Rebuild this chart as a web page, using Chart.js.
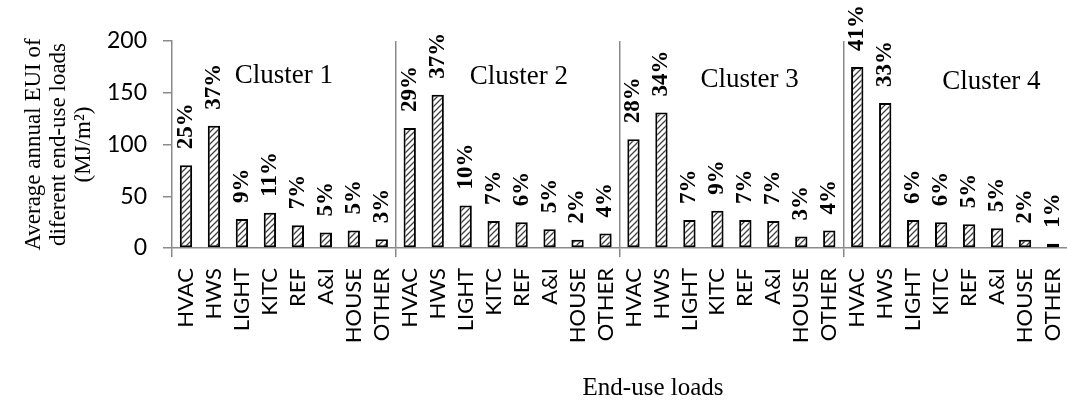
<!DOCTYPE html>
<html>
<head>
<meta charset="utf-8">
<script src="https://cdn.jsdelivr.net/npm/chart.js@4/dist/chart.umd.min.js"></script>
<style>
html,body{margin:0;padding:0;background:#fff;}
canvas{display:block;}
</style>
</head>
<body>
<canvas id="c" width="1067" height="401"></canvas>
<script>
// ---- data ----
const endUses = ['HVAC', 'HWS', 'LIGHT', 'KITC', 'REF', 'A&I', 'HOUSE', 'OTHER'];
const clusterNames = ['Cluster 1', 'Cluster 2', 'Cluster 3', 'Cluster 4'];
const cluster1Values = [80, 118, 28, 34, 22, 15, 17, 8.5];
const cluster2Values = [116, 148, 41, 26, 25, 18, 8, 14];
const cluster3Values = [105, 131, 27, 36, 27, 26, 11, 17];
const cluster4Values = [175, 140, 27, 25, 23, 19, 8, 4];
const cluster1Shares = ['25%', '37%', '9%', '11%', '7%', '5%', '5%', '3%'];
const cluster2Shares = ['29%', '37%', '10%', '7%', '6%', '5%', '2%', '4%'];
const cluster3Shares = ['28%', '34%', '7%', '9%', '7%', '7%', '3%', '4%'];
const cluster4Shares = ['41%', '33%', '6%', '6%', '5%', '5%', '2%', '1%'];
const yTickValues = [0, 50, 100, 150, 200];
const yTitle = ['Average annual EUI of', 'diferent end-use loads', '(MJ/m\u00B2)'];
const xTitle = 'End-use loads';

// ---- derived ----
const categories = [].concat(endUses, endUses, endUses, endUses);
const values = [].concat(cluster1Values, cluster2Values, cluster3Values, cluster4Values);
const shares = [].concat(cluster1Shares, cluster2Shares, cluster3Shares, cluster4Shares);

const axisColor = '#8a8a8a';
const serif = '"Liberation Serif", "Times New Roman", serif';
const sans = 'Lato, "Open Sans", sans-serif';

const canvas = document.getElementById('c');
const mainCtx = canvas.getContext('2d');

function makeHatch() {
  const s = 6;
  const t = document.createElement('canvas');
  t.width = s; t.height = s;
  const g = t.getContext('2d');
  g.fillStyle = '#ffffff';
  g.fillRect(0, 0, s, s);
  g.strokeStyle = '#404040';
  g.lineWidth = 1.3;
  g.beginPath();
  g.moveTo(-1, s + 1); g.lineTo(s + 1, -1);
  g.moveTo(-s / 2 - 1, s / 2 + 1); g.lineTo(s / 2 + 1, -s / 2 - 1);
  g.moveTo(s / 2 - 1, s * 1.5 + 1); g.lineTo(s * 1.5 + 1, s / 2 - 1);
  g.stroke();
  return mainCtx.createPattern(t, 'repeat');
}
const hatch = makeHatch();

// annotation placements (category index, value) for cluster names
const clusterNamePlacement = [[3.5, 159], [11.9, 158.5], [20.15, 156], [28.8, 154]];

const annotate = {
  id: 'annotate',
  afterDatasetsDraw(chart) {
    const ctx = chart.ctx;
    const meta = chart.getDatasetMeta(0);
    const xs = chart.scales.x, ys = chart.scales.y;
    ctx.save();
    ctx.fillStyle = '#000';
    // percentage labels
    ctx.font = 'bold 23px ' + serif;
    ctx.textAlign = 'left';
    ctx.textBaseline = 'middle';
    meta.data.forEach((bar, i) => {
      ctx.save();
      ctx.translate(bar.x, bar.y - 16);
      ctx.rotate(-Math.PI / 2);
      ctx.fillText(shares[i], 0, 0);
      ctx.restore();
    });
    // cluster names
    ctx.font = '27px ' + serif;
    ctx.textAlign = 'center';
    ctx.textBaseline = 'alphabetic';
    clusterNames.forEach((name, k) => {
      const p = clusterNamePlacement[k];
      ctx.fillText(name, xs.getPixelForValue(p[0]), ys.getPixelForValue(p[1]));
    });
    // x axis title
    ctx.font = '25px ' + serif;
    ctx.fillText(xTitle, xs.getPixelForValue(16.7), chart.height - 6);
    ctx.restore();
  }
};

new Chart(mainCtx, {
  type: 'bar',
  data: {
    labels: categories,
    datasets: [{
      data: values,
      backgroundColor: hatch,
      borderColor: '#000',
      borderWidth: 2,
      borderSkipped: false,
      barPercentage: 0.44,
      categoryPercentage: 1
    }]
  },
  options: {
    responsive: false,
    animation: false,
    devicePixelRatio: 1,
    layout: { padding: { top: 41, right: 0, left: 0, bottom: 0 } },
    plugins: { legend: { display: false }, tooltip: { enabled: false }, title: { display: false } },
    scales: {
      x: {
        offset: true,
        grid: {
          offset: true,
          drawOnChartArea: true,
          color: c => [8, 16, 24].includes(c.index) ? axisColor : 'rgba(0,0,0,0)',
          tickColor: c => [0, 8, 16, 24, 32].includes(c.index) ? axisColor : 'rgba(0,0,0,0)',
          tickLength: 9,
          lineWidth: 1.5
        },
        border: { display: true, color: axisColor, width: 1.5 },
        ticks: {
          autoSkip: false, minRotation: 90, maxRotation: 90, padding: 11,
          color: '#000', font: { family: sans, size: 22 }
        },
        afterFit: s => { s.height = 153; s.paddingLeft = 0; s.paddingRight = 0; }
      },
      y: {
        min: 0, max: 200,
        afterBuildTicks: s => { s.ticks = yTickValues.map(v => ({ value: v })); },
        grid: { drawOnChartArea: false, tickLength: 9, color: axisColor, lineWidth: 1.5 },
        border: { display: true, color: axisColor, width: 1.5 },
        ticks: { padding: 16, color: '#000', font: { family: sans, size: 23 } },
        title: {
          display: true, text: yTitle, color: '#000',
          font: { family: serif, size: 23, lineHeight: 1.1 },
          padding: { top: 21, bottom: 0 }
        },
        afterFit: s => { s.width = 172; }
      }
    }
  },
  plugins: [annotate]
});
</script>
</body>
</html>
